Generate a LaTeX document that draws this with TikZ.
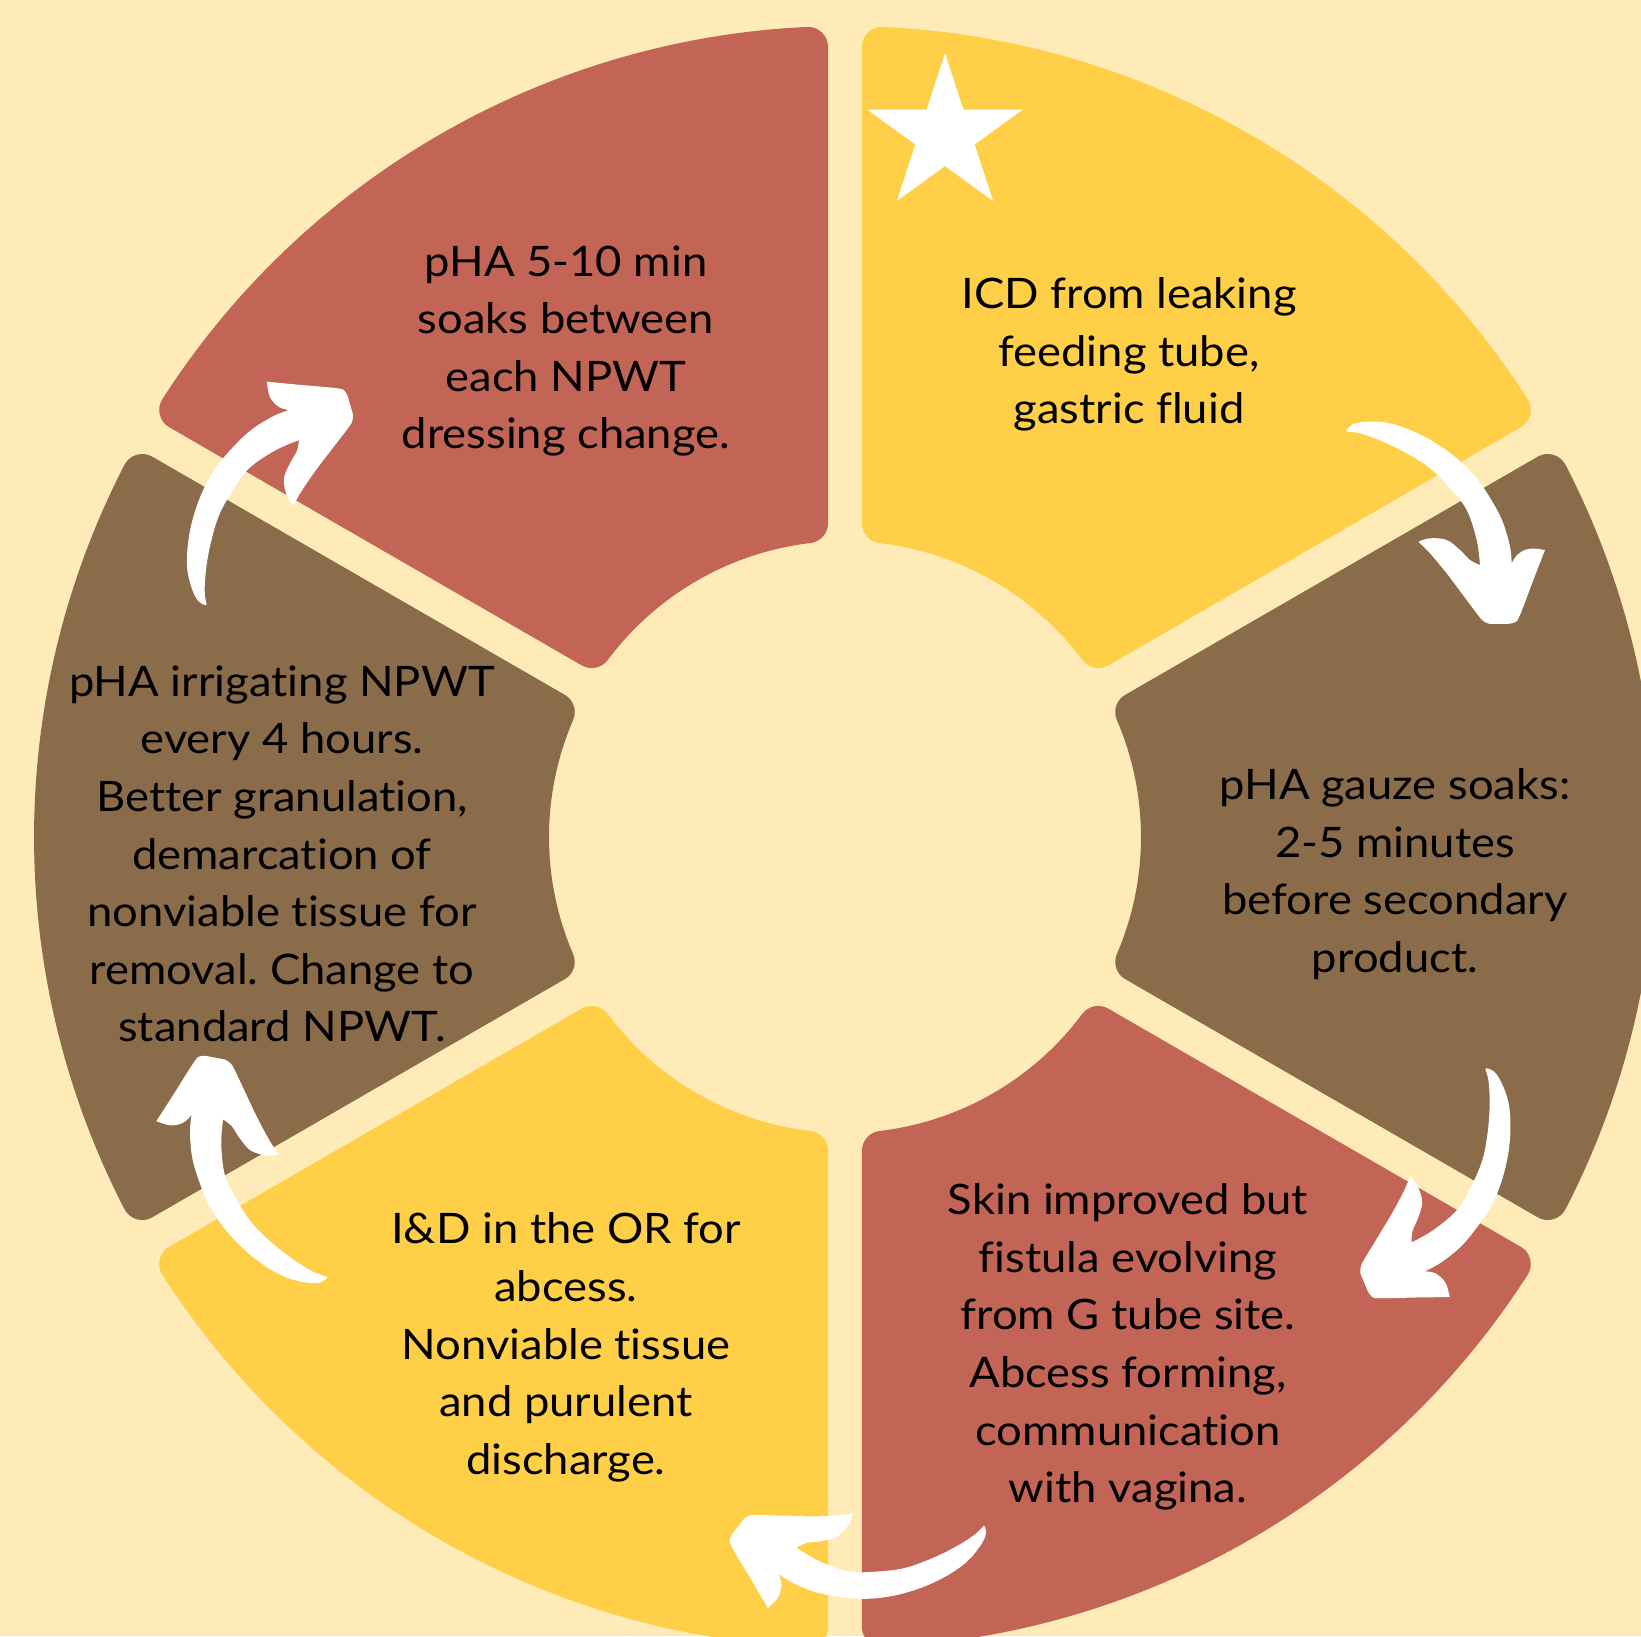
\documentclass[tikz,border=0pt]{standalone}
\usepackage{fontspec}
\setmainfont[Ligatures={NoCommon}, FakeStretch=1.08]{Lato}
\frenchspacing
\definecolor{bgc}{HTML}{FEEBB7}
\definecolor{redc}{HTML}{C26556}
\definecolor{yelc}{HTML}{FFCF48}
\definecolor{brnc}{HTML}{8A6C4A}
\tikzset{
  seg/.style={fill=#1, draw=#1, line width=40pt, line join=round},
  lbl/.style={align=center, text=black, font=\fontsize{42}{57.6}\selectfont, inner sep=0pt},
  brusharrow/.pic={
    \fill[white]
      plot[smooth,tension=0.6] coordinates {(501.7,405) (508,410.8) (521.7,413.3) (541.7,412.3) (565,405) (588.3,393.3) (611.7,376.7) (631.7,356.7) (648.3,331.7) (658.3,311.7) (665,288.3) (666.7,271.7)}
      -- plot[smooth,tension=0.6] coordinates {(666.7,271.7) (672,280) (680,285) (688.3,286.5) (700,285)}
      -- plot[smooth,tension=0.4] coordinates {(700,285) (688.3,255) (678.3,228.3) (672,214) (664,211.2)}
      -- plot[smooth,tension=0.4] coordinates {(645,211) (637,215) (621.7,235) (601.7,261.7) (585,281.7) (573.3,293.3)}
      -- plot[smooth,tension=0.6] coordinates {(573.3,293.3) (585,296.7) (601.7,295) (615,285) (625,275) (635,270)}
      -- plot[smooth,tension=0.6] coordinates {(635,270) (631.7,295) (621.7,325) (605,346.7) (585,366.7) (561.7,381.7) (538.3,393.3) (515,401.7) (501.7,403.3)}
      -- cycle;
  }
}
\newcommand{\ringseg}[2]{%
  \path[seg=#2] ({#1+6.724}:316) -- ({#1+2.681}:791)
    arc[start angle={#1+2.681}, end angle={#1+60-2.681}, radius=791]
    -- ({#1+60-6.724}:316)
    arc[start angle={#1+60-6.724}, end angle={#1+6.724}, radius=316] -- cycle;}
\begin{document}
\begin{tikzpicture}[x=1pt,y=1pt]
\fill[bgc] (-845,-799) rectangle (796,837);
\useasboundingbox (-845,-799) rectangle (796,837);
% ring segments
\ringseg{90}{redc}
\ringseg{30}{yelc}
\ringseg{-30}{brnc}
\ringseg{-90}{redc}
\ringseg{-150}{yelc}
\ringseg{150}{brnc}
% star
\begin{scope}[shift={(100,702.2)}]
\fill[white] (90:81.8) -- (126:31.2) -- (162:81.8) -- (198:31.2) -- (234:81.8) -- (270:31.2)
  -- (306:81.8) -- (342:31.2) -- (18:81.8) -- (54:31.2) -- cycle;
\end{scope}
% arrows
\pic at (0,2) {brusharrow};
\pic[rotate=-68] at (78.3,82.2) {brusharrow};
\pic[rotate=231.7] at (133.1,-45) {brusharrow};
\pic[rotate=168.5] at (54.1,-144.4) {brusharrow};
\pic[rotate=105.7] at (-114.3,-141.4) {brusharrow};
% labels
\node[lbl] (s1) at (-279,486) {pHA 5-10 min\\soaks between\\each NPWT\\dressing change.};
\node[lbl] (s2) at (284,482.5) {ICD from leaking\\feeding tube,\\gastric fluid};
\node[lbl] (s3) at (550,-37) {pHA gauze soaks:\\2-5 minutes\\before secondary\\product.};
\node[lbl] (s4) at (283,-510) {Skin improved but\\fistula evolving\\from G tube site.\\Abcess forming,\\communication\\with vagina.};
\node[lbl] (s5) at (-279,-510.5) {I\&D in the OR for\\abcess.\\Nonviable tissue\\and purulent\\discharge.};
\node[lbl] (s6) at (-563,-17) {pHA irrigating NPWT\\every 4 hours.\\Better granulation,\\demarcation of\\nonviable tissue for\\removal. Change to\\standard NPWT.};
\end{tikzpicture}
\end{document}
